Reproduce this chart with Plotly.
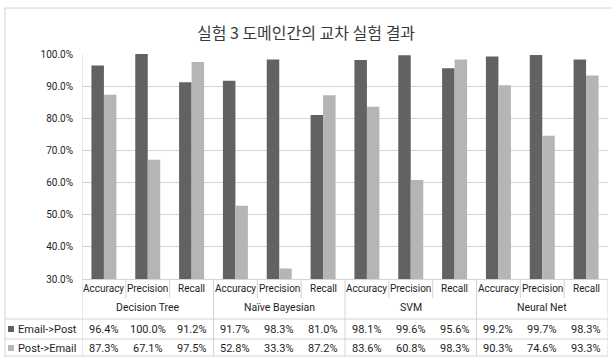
import plotly.graph_objects as go

# Cross-domain experiment results (experiment 3)
groups = ["Decision Tree", "Naïve Bayesian", "SVM", "Neural Net"]
metrics = ["Accuracy", "Precision", "Recall"]
series_names = ["Email->Post", "Post->Email"]
email_to_post = [96.4, 100.0, 91.2, 91.7, 98.3, 81.0, 98.1, 99.6, 95.6, 99.2, 99.7, 98.3]
post_to_email = [87.3, 67.1, 97.5, 52.8, 33.3, 87.2, 83.6, 60.8, 98.3, 90.3, 74.6, 93.3]
y_ticks = [30, 40, 50, 60, 70, 80, 90, 100]

W, H = 612, 357
L, R, T, B = 82, 4, 54, 78
PW, PH = W - L - R, H - T - B

DARK = "#626262"
LIGHT = "#b5b5b5"
LINE = "#d4d4d4"
TXT = "#1e1e1e"
FONT = "Roboto, Liberation Sans, sans-serif"

n = len(groups) * len(metrics)
xs = list(range(n))


def px_x(p):
    return (p - L) / PW


def px_y(p):
    return (H - B - p) / PH


fig = go.Figure()
fig.add_bar(x=xs, y=[v / 100 for v in email_to_post], name=series_names[0],
            marker=dict(color=DARK, line=dict(width=0)))
fig.add_bar(x=xs, y=[v / 100 for v in post_to_email], name=series_names[1],
            marker=dict(color=LIGHT, line=dict(width=0)))

shapes = []
annotations = []


def hline(y0px, x0px, x1px):
    shapes.append(dict(type="line", xref="paper", yref="paper",
                       x0=px_x(x0px), x1=px_x(x1px), y0=px_y(y0px), y1=px_y(y0px),
                       line=dict(color=LINE, width=1)))


def vline_data(x, y0px, y1px):
    shapes.append(dict(type="line", xref="x", yref="paper",
                       x0=x, x1=x, y0=px_y(y0px), y1=px_y(y1px),
                       line=dict(color=LINE, width=1)))


def vline_px(xpx, y0px, y1px):
    shapes.append(dict(type="line", xref="paper", yref="paper",
                       x0=px_x(xpx), x1=px_x(xpx), y0=px_y(y0px), y1=px_y(y1px),
                       line=dict(color=LINE, width=1)))


def label(x, ypx, text, size, xref="x", xanchor="center"):
    annotations.append(dict(x=x, y=px_y(ypx), xref=xref, yref="paper",
                            xanchor=xanchor, yanchor="middle",
                            text=text, showarrow=False,
                            font=dict(size=size, color=TXT, family=FONT)))


# outer chart border
hline(8, 5, 640)
vline_px(5, 8, 400)

# data table grid
ROW_CAT, ROW_GRP = 288, 307
ROW1_TOP, ROW2_TOP, TBL_BOT = 319, 339, 356
for k in range(n - 1):
    xb = k + 0.5
    if (k + 1) % len(metrics) == 0:
        vline_data(xb, H - B, TBL_BOT)
    else:
        vline_data(xb, H - B, 298)
vline_data(-0.5, T, TBL_BOT)
vline_data(n - 0.5, H - B, TBL_BOT)
for ypx in (ROW1_TOP, ROW2_TOP, TBL_BOT):
    hline(ypx, 5, L + PW)

# category labels
for i in range(n):
    label(i, ROW_CAT, metrics[i % len(metrics)], 10)
# group labels
for g, name in enumerate(groups):
    label(g * len(metrics) + 1, ROW_GRP, name, 10.5)
# value rows
for row_vals, ypx in ((email_to_post, 329), (post_to_email, 348)):
    for i, v in enumerate(row_vals):
        label(i, ypx, f"{v:.1f}%", 11)
# legend keys inside the table
for name, color, ypx in ((series_names[0], DARK, 329), (series_names[1], LIGHT, 348)):
    shapes.append(dict(type="rect", xref="paper", yref="paper",
                       x0=px_x(8), x1=px_x(14), y0=px_y(ypx + 3), y1=px_y(ypx - 3),
                       fillcolor=color, line=dict(width=0)))
    label(px_x(16), ypx, name, 11, xref="paper", xanchor="left")

fig.update_layout(
    width=W, height=H,
    margin=dict(l=L, r=R, t=T, b=B),
    paper_bgcolor="white", plot_bgcolor="white",
    barmode="group", bargap=0.43, bargroupgap=0,
    showlegend=False,
    title=dict(text="실험 3 도메인간의 교차 실험 결과", x=0.5, xanchor="center",
               y=1 - 33 / H, yanchor="middle",
               font=dict(family="Noto Sans CJK KR", size=16, color="#3a3a3a")),
    shapes=shapes, annotations=annotations,
    xaxis=dict(range=[-0.5, n - 0.5], showticklabels=False, showgrid=False,
               zeroline=False, showline=True, linecolor=LINE, linewidth=1, ticks=""),
    yaxis=dict(range=[0.3, 1.0], tickvals=[t / 100 for t in y_ticks], tickformat=".1%",
               showgrid=True, gridcolor=LINE, gridwidth=1, zeroline=False,
               showline=False, ticks="", ticklabelstandoff=8,
               tickfont=dict(size=10, color=TXT, family=FONT)),
)

fig.write_html("out.html")
